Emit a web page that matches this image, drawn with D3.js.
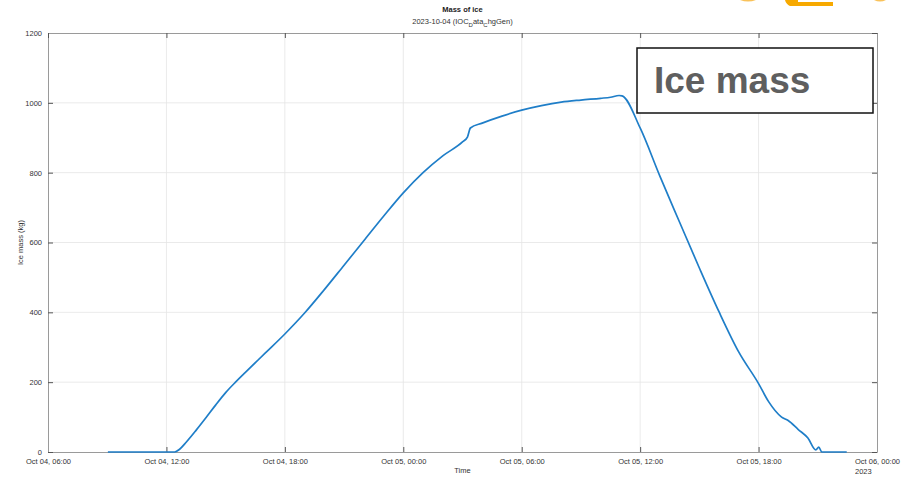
<!DOCTYPE html>
<html>
<head>
<meta charset="utf-8">
<script src="https://cdn.jsdelivr.net/npm/d3@7"></script>
<style>
  body { margin: 0; background: #fff; }
  svg { display: block; font-family: "Liberation Sans", Arial, sans-serif; }
</style>
</head>
<body>
<svg width="915" height="477"></svg>
<script>
const times = [
  '2023-10-04T09:02', '2023-10-04T12:25', '2023-10-04T12:40', '2023-10-04T13:00',
  '2023-10-04T13:30', '2023-10-04T14:00', '2023-10-04T14:30', '2023-10-04T15:00',
  '2023-10-04T15:30', '2023-10-04T16:00', '2023-10-04T17:00', '2023-10-04T18:00',
  '2023-10-04T19:00', '2023-10-04T20:00', '2023-10-04T21:00', '2023-10-04T22:00',
  '2023-10-04T23:00', '2023-10-05T00:00', '2023-10-05T01:00', '2023-10-05T02:00',
  '2023-10-05T03:00', '2023-10-05T03:15', '2023-10-05T03:24', '2023-10-05T04:00',
  '2023-10-05T05:00', '2023-10-05T06:00', '2023-10-05T07:00', '2023-10-05T08:00',
  '2023-10-05T09:00', '2023-10-05T10:00', '2023-10-05T10:30', '2023-10-05T10:56',
  '2023-10-05T11:05', '2023-10-05T12:00', '2023-10-05T13:00', '2023-10-05T14:00',
  '2023-10-05T15:00', '2023-10-05T16:00', '2023-10-05T17:00', '2023-10-05T18:00',
  '2023-10-05T18:30', '2023-10-05T19:10', '2023-10-05T19:30', '2023-10-05T20:00',
  '2023-10-05T20:30', '2023-10-05T20:54', '2023-10-05T21:03', '2023-10-05T21:12',
  '2023-10-05T22:28'
];
const mass = [
  0, 0, 8, 28,
  62, 98, 135, 170,
  200, 228, 283, 338,
  398, 465, 535, 605,
  675, 742, 800, 848,
  888, 902, 928, 942,
  962, 979, 992, 1002,
  1008, 1013, 1016, 1021,
  1020, 928, 790, 658,
  527, 401, 286, 196,
  145, 100, 90, 65,
  40, 6, 14, 0,
  0
];
const yTicks = [0, 200, 400, 600, 800, 1000, 1200];
const xTicks = [
  '2023-10-04T06:00', '2023-10-04T12:00', '2023-10-04T18:00', '2023-10-05T00:00',
  '2023-10-05T06:00', '2023-10-05T12:00', '2023-10-05T18:00', '2023-10-06T00:00'
];

const parse = d3.timeParse('%Y-%m-%dT%H:%M');
const data = times.map((t, i) => ({ t: parse(t), v: mass[i] }));
const xTickDates = xTicks.map(parse);

const margin = { top: 33, right: 38, bottom: 25, left: 48 };
const width = 915, height = 477;
const svg = d3.select('svg');

const x = d3.scaleTime()
  .domain([xTickDates[0], xTickDates[xTickDates.length - 1]])
  .range([margin.left, width - margin.right]);
const y = d3.scaleLinear()
  .domain([0, 1200])
  .range([height - margin.bottom, margin.top]);

const x0 = margin.left, x1 = width - margin.right;
const y0 = height - margin.bottom, y1 = margin.top;

// logo scrap at the top right
svg.append('path')
  .attr('d', 'M740,0 Q748,3 756,0 Z M874,0 Q880,3 886,0 Z')
  .attr('fill', '#f9c25a');
svg.append('path')
  .attr('d', 'M785,0 L798,0 L798,2 L833,2 L833,6 L790,6 Q786,4 785,0 Z')
  .attr('fill', '#f7a900');

// grid
const grid = svg.append('g').attr('stroke', '#e4e4e4').attr('stroke-width', 0.8);
grid.selectAll('.vg').data(xTickDates.slice(1, -1)).join('line')
  .attr('x1', d => x(d)).attr('x2', d => x(d))
  .attr('y1', y1).attr('y2', y0);
grid.selectAll('.hg').data(yTicks.slice(1, -1)).join('line')
  .attr('x1', x0).attr('x2', x1)
  .attr('y1', d => y(d)).attr('y2', d => y(d));

// axes (MATLAB-style box, ticks inside)
const fmt = d3.timeFormat('%b %d, %H:%M');
const xAxis = svg.append('g')
  .attr('transform', `translate(0,${y0})`)
  .call(d3.axisBottom(x).tickValues(xTickDates).tickFormat(fmt).tickSizeInner(-5).tickSizeOuter(0).tickPadding(7));
const yAxis = svg.append('g')
  .attr('transform', `translate(${x0},0)`)
  .call(d3.axisLeft(y).tickValues(yTicks).tickFormat(d3.format('d')).tickSizeInner(-5).tickSizeOuter(0).tickPadding(6));
const xTop = svg.append('g')
  .attr('transform', `translate(0,${y1})`)
  .call(d3.axisTop(x).tickValues(xTickDates).tickFormat('').tickSizeInner(-5).tickSizeOuter(0));
const yRight = svg.append('g')
  .attr('transform', `translate(${x1},0)`)
  .call(d3.axisRight(y).tickValues(yTicks).tickFormat('').tickSizeInner(-5).tickSizeOuter(0));

[xAxis, yAxis, xTop, yRight].forEach(a => {
  a.select('.domain').attr('stroke', '#9a9a9a');
  a.selectAll('.tick line').attr('stroke', '#555');
  a.selectAll('text').attr('fill', '#333').attr('font-size', 7.5);
});
xAxis.append('text')
  .attr('x', x(xTickDates[xTickDates.length - 1]) - 22)
  .attr('y', 21.5)
  .attr('fill', '#333').attr('font-size', 7.5).attr('text-anchor', 'start')
  .text('2023');

// series
svg.append('path')
  .datum(data)
  .attr('fill', 'none')
  .attr('stroke', '#1f7ec8')
  .attr('stroke-width', 1.7)
  .attr('stroke-linejoin', 'round')
  .attr('d', d3.line().x(d => x(d.t)).y(d => y(d.v)).curve(d3.curveMonotoneX));

// titles
svg.append('text')
  .attr('x', (x0 + x1) / 2).attr('y', 12)
  .attr('text-anchor', 'middle').attr('font-size', 7.5).attr('font-weight', 'bold')
  .attr('fill', '#222')
  .text('Mass of ice');
const sub = svg.append('text')
  .attr('x', (x0 + x1) / 2).attr('y', 24)
  .attr('text-anchor', 'middle').attr('font-size', 7.5).attr('fill', '#333');
sub.append('tspan').text('2023-10-04 (IOC');
sub.append('tspan').attr('dy', 2.5).attr('font-size', 6).text('D');
sub.append('tspan').attr('dy', -2.5).text('ata');
sub.append('tspan').attr('dy', 2.5).attr('font-size', 6).text('C');
sub.append('tspan').attr('dy', -2.5).text('hgGen)');

svg.append('text')
  .attr('x', (x0 + x1) / 2).attr('y', 473)
  .attr('text-anchor', 'middle').attr('font-size', 7.5).attr('fill', '#333')
  .text('Time');
svg.append('text')
  .attr('transform', `translate(23,${(y0 + y1) / 2}) rotate(-90)`)
  .attr('text-anchor', 'middle').attr('font-size', 7.5).attr('fill', '#333')
  .text('Ice mass (kg)');

// pasted label box
svg.append('rect')
  .attr('x', 637).attr('y', 48).attr('width', 236).attr('height', 65)
  .attr('fill', '#fff').attr('stroke', '#111').attr('stroke-width', 1.5);
svg.append('text')
  .attr('x', 654).attr('y', 93)
  .attr('font-size', 37).attr('font-weight', 'bold').attr('fill', '#5f5f5f')
  .text('Ice mass');
</script>
</body>
</html>
